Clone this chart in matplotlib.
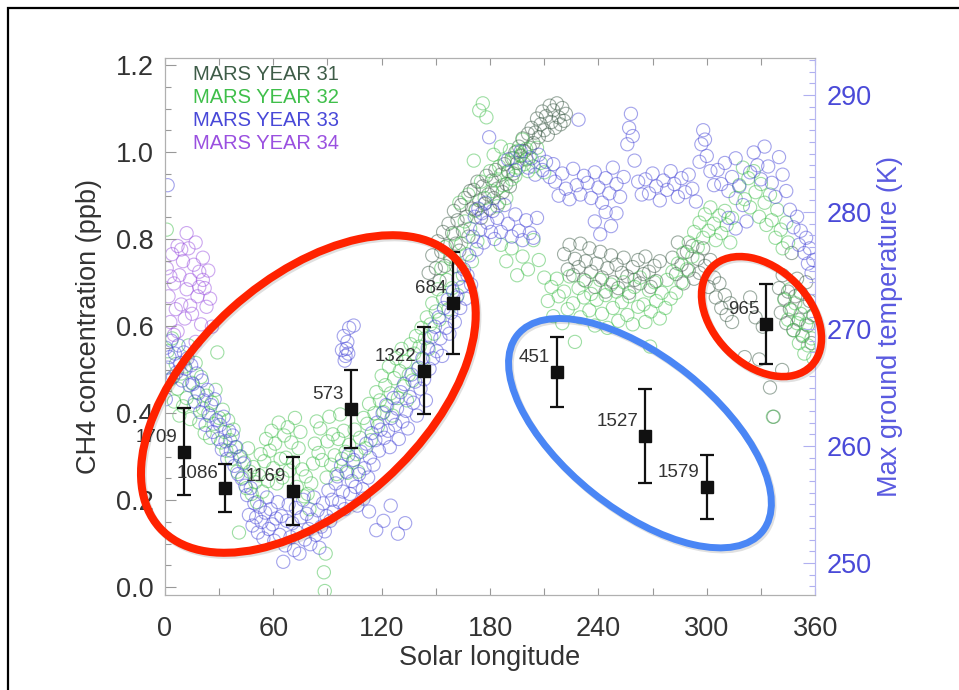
import numpy as np
import matplotlib
matplotlib.use("Agg")
import matplotlib.pyplot as plt
import matplotlib.patheffects as pe
from matplotlib.patches import Ellipse, Rectangle
from matplotlib.transforms import ScaledTranslation
from matplotlib.ticker import MultipleLocator

plt.rcParams['font.family'] = ['Liberation Sans', 'DejaVu Sans']

# CH4 measurements: solar longitude, concentration (ppb), 1-sigma error, sol label
ch4_ls = [10.6, 33.3, 70.8, 103.0, 143.3, 159.4, 217.0, 266.0, 300.0, 332.8]
ch4_val = [0.311, 0.228, 0.221, 0.409, 0.497, 0.653, 0.494, 0.347, 0.230, 0.605]
ch4_err = [0.100, 0.055, 0.078, 0.090, 0.100, 0.118, 0.080, 0.108, 0.073, 0.092]
ch4_sol = ['1709', '1086', '1169', '573', '1322', '684', '451', '1527', '1579', '965']

my31_pts = [
    (146, 274.8), (148, 276.3), (150, 275.2), (151, 277.5), (152, 274.1), (153, 276.6), (154, 278.3),
    (155, 275.4), (156, 277.1), (157, 279.0), (158, 276.0), (159, 278.2), (160, 280.1), (161, 277.3),
    (162, 279.3), (163, 276.7), (164, 280.6), (165, 278.4), (166, 281.2), (167, 279.6), (168, 277.9),
    (169, 281.8), (170, 280.3), (171, 281.9), (172, 280.2), (173, 282.6), (174, 281.0), (175, 279.5),
    (176, 282.2), (177, 280.7), (178, 283.1), (179, 281.5), (180, 280.3), (181, 282.7), (182, 281.2),
    (183, 283.6), (184, 282.0), (185, 280.8), (186, 283.2), (187, 281.7), (188, 284.1), (189, 282.4),
    (190, 283.5), (191, 282.2), (192, 284.6), (193, 283.3), (194, 285.1), (195, 284.2), (196, 285.6),
    (197, 284.8), (198, 286.3), (199, 285.2), (200, 284.5), (201, 286.7), (202, 285.5), (203, 287.2),
    (204, 285.9), (205, 286.8), (206, 288.0), (207, 286.4), (208, 287.5), (209, 288.6), (210, 287.0),
    (211, 288.2), (212, 286.6), (213, 289.1), (214, 287.7), (215, 288.7), (216, 287.2), (217, 289.3),
    (218, 288.1), (219, 287.5), (220, 288.9), (221, 287.8), (222, 288.4),
    (221, 276.4), (223, 275.1), (224, 277.2), (226, 274.6), (227, 276.0), (229, 275.3), (230, 277.3),
    (232, 274.2), (233, 275.8), (235, 276.9), (236, 274.9), (238, 273.6), (239, 275.6), (241, 276.6),
    (242, 274.4), (244, 273.2), (245, 275.2), (247, 276.3), (248, 274.0), (250, 275.5), (251, 273.5),
    (253, 274.8), (254, 276.1), (256, 274.5), (257, 273.1), (259, 275.3), (260, 274.2), (262, 275.9),
    (263, 273.9), (265, 274.7), (266, 276.2), (268, 274.9), (269, 273.6), (271, 275.4), (272, 274.1),
    (274, 275.8), (281, 276.1), (283, 274.7), (284, 277.4), (286, 275.5), (287, 273.9), (289, 276.6),
    (290, 275.0), (292, 277.1), (293, 274.3), (295, 276.0), (296, 274.8), (298, 276.9), (299, 275.4),
    (301, 273.6), (302, 275.9), (304, 274.4), (305, 272.7), (307, 273.9), (308, 271.8), (310, 272.9),
    (311, 271.2), (313, 272.2), (314, 270.6), (321, 267.6), (324, 272.7), (327, 271.0), (329, 267.4),
    (331, 270.2), (335, 265.0), (337, 262.5), (341.7, 266.5),
    (340, 273.5), (341, 271.4), (342, 274.6), (343, 272.6), (344, 270.5), (345, 273.2), (346, 271.7),
    (347, 276.5), (348, 269.9), (349, 272.8), (350, 274.3), (351, 270.8), (352, 273.1), (353, 269.4),
    (354, 271.9), (355, 274.0), (356, 270.3), (357, 272.4), (358, 268.8), (359, 271.2),
]

my32_pts = [
    (1, 278.5), (1.5, 268.1), (3, 265.7), (4, 269.2), (5, 263.8), (6, 267.0), (7, 264.9), (8, 262.6),
    (9, 266.2), (10, 263.4), (11, 266.8), (12, 264.1), (13, 268.6), (14, 262.3), (15, 265.4),
    (16, 263.5), (17, 267.1), (18, 264.6), (19, 262.0), (20, 265.9), (21, 263.2), (22, 261.1),
    (23, 264.3), (24, 262.8), (25, 260.7), (26, 263.7), (27, 261.9), (28, 264.8), (29, 268.0),
    (30, 262.4), (31, 260.3), (32, 263.1), (33, 261.2), (34, 259.6), (35, 262.2), (36, 260.5),
    (37, 258.9), (38, 261.4), (39, 259.9), (40, 257.8), (41, 252.6), (42, 259.1), (43, 257.3),
    (44, 258.6), (45, 256.4), (46, 259.8), (47, 257.8), (48, 255.9), (49, 258.2), (50, 256.9),
    (51, 255.2), (52, 257.5), (53, 259.3), (54, 256.1), (55, 258.7), (56, 260.6), (57, 257.0),
    (58, 259.6), (59, 261.3), (60, 258.1), (61, 260.2), (62, 256.8), (63, 262.0), (64, 258.9),
    (65, 257.3), (66, 260.9), (67, 259.0), (68, 261.6), (69, 257.9), (70, 260.3), (71, 258.6),
    (72, 262.4), (73, 256.5), (74, 259.8), (75, 261.2), (76, 258.0), (77, 255.7), (78, 257.4),
    (79, 255.9), (80, 254.6), (81, 256.8), (82, 258.5), (83, 260.2), (84, 262.1), (85, 259.4),
    (86, 261.5), (87, 258.8), (88, 249.2), (88.5, 247.6), (89, 250.8), (89.5, 257.3), (90, 260.4),
    (91, 262.5), (92, 258.4), (93, 261.0), (94, 259.2), (95, 257.6), (96, 260.6), (97, 262.7),
    (98, 258.9), (99, 261.3), (100, 259.5), (101, 257.7), (102, 260.1), (104, 258.6), (105, 261.4),
    (106, 259.3), (107, 257.8), (108, 260.7), (110, 262.4), (111, 259.8), (112, 261.9), (113, 263.6),
    (114, 260.5), (116, 262.8), (117, 264.6), (118, 261.7), (119, 263.9), (120, 266.0), (121, 262.9),
    (122, 265.2), (123, 263.4), (124, 266.8), (125, 264.5), (126, 262.6), (127, 265.8), (128, 267.5),
    (129, 264.1), (130, 266.4), (131, 268.3), (132, 265.1), (133, 267.2), (134, 263.9), (135, 266.1),
    (136, 268.7), (137, 265.6), (138, 267.9), (139, 269.4), (140, 266.6), (141, 268.5), (142, 270.1),
    (143, 267.4), (144, 269.2), (145, 271.0), (146, 268.3), (147, 270.4), (148, 272.2), (149, 269.6),
    (150, 271.5), (151, 273.4), (152, 270.8), (153, 275.2), (154, 272.6), (155, 277.0), (156, 274.2),
    (157, 271.7), (158, 276.2), (159, 273.5), (160, 278.1), (161, 275.4), (162, 272.9), (163, 280.8),
    (164, 277.3), (165, 274.6), (166, 279.2), (167, 276.4), (168, 281.5), (169, 278.6), (170, 275.8),
    (171, 284.4), (172, 280.1), (173, 277.5), (174, 288.7), (175, 282.6), (176, 289.3), (177, 281.2),
    (178, 288.1), (180, 283.5), (181, 281.8), (182, 284.9), (183, 282.7), (184, 280.5), (185, 283.9),
    (186, 285.6), (187, 282.3), (188, 284.4), (189, 281.2), (190, 283.4), (191, 285.3), (192, 282.8),
    (193, 284.6), (194, 283.1), (195, 285.2), (196, 283.8), (197, 284.9), (198, 286.2), (199, 284.1),
    (200, 285.4), (201, 283.5), (202, 284.7), (204, 283.9), (206, 285.5), (208, 284.2), (210, 283.4),
    (186, 277.2), (189, 275.8), (192, 276.9), (195, 274.6), (198, 276.2), (201, 275.1), (204, 277.6),
    (207, 275.9), (210, 274.4), (212, 272.4), (214, 273.6), (215, 271.1), (217, 274.3), (218, 272.8),
    (220, 270.5), (221, 273.2), (223, 271.7), (224, 274.5), (226, 272.2), (227, 268.9), (229, 273.5),
    (230, 271.0), (232, 272.7), (233, 274.1), (235, 271.6), (236, 273.0), (238, 270.3), (239, 272.5),
    (241, 274.2), (242, 271.3), (244, 272.9), (245, 270.1), (247, 273.8), (248, 271.8), (250, 273.2),
    (251, 270.7), (253, 272.3), (254, 274.0), (256, 271.2), (257, 272.8), (259, 270.4), (260, 273.6),
    (262, 271.9), (263, 274.4), (265, 272.1), (266, 270.6), (268, 273.3), (268.6, 268.5), (269, 271.5),
    (271, 274.0), (272, 272.4), (274, 270.9), (275, 273.1), (277, 271.8), (278, 274.2), (280, 272.6),
    (281, 274.9), (283, 273.1), (284, 275.6), (286, 274.0), (287, 276.5), (289, 275.1), (290, 277.4),
    (292, 276.2), (293, 278.3), (295, 277.0), (296, 279.1), (298, 277.8), (299, 279.8), (301, 278.4),
    (302, 280.4), (304, 279.0), (305, 277.6), (307, 279.7), (308, 278.2), (310, 280.1), (311, 278.9),
    (313, 277.4), (314, 279.5), (316, 281.2), (318, 282.3), (320, 283.8), (321, 281.1), (323, 282.9),
    (324, 280.4), (326, 283.5), (327, 281.7), (329, 279.6), (330, 282.4), (332, 280.8), (333, 278.9),
    (335, 281.5), (336, 279.3), (338, 277.8), (339, 280.2), (341, 278.5), (342, 276.9), (344, 279.1),
    (345, 277.4), (343, 272.5), (345, 270.8), (346, 273.4), (347, 271.6), (348, 269.9), (349, 272.2),
    (350, 270.5), (351, 268.8), (352, 271.3), (353, 269.5), (354, 267.9), (355, 270.4), (356, 268.6),
    (357, 271.0), (358, 269.2), (359, 267.5), (336.6, 262.5),
]

my33_pts = [
    (0.5, 268.4), (1.5, 266.7), (2.5, 267.6), (3.5, 269.0), (4.5, 265.9), (5.5, 267.9), (6.5, 266.3),
    (7.5, 268.6), (8.5, 267.1), (9.5, 265.6), (10.5, 268.0), (11.5, 266.6), (12.5, 267.5), (13.5, 265.2),
    (14.5, 266.9), (1.5, 282.3), (0.5, 264.0),
    (15.5, 265.3), (16.5, 263.8), (17.5, 266.2), (18.5, 264.5), (19.5, 262.9), (20.5, 265.6),
    (21.5, 263.9), (22.5, 261.8), (23.5, 264.8), (24.5, 262.6), (25.5, 263.5), (26.5, 261.2),
    (27.5, 264.0), (28.5, 262.2), (29.5, 260.6), (30.5, 261.8), (31.5, 259.7), (32.5, 262.5),
    (33.5, 260.4), (34.5, 258.9), (35.5, 261.3), (36.5, 259.6), (37.5, 260.9), (38.5, 258.3),
    (39.5, 259.9), (40.5, 257.6), (41.5, 259.1), (42.5, 257.2), (43.5, 258.5), (44.5, 256.6),
    (45.5, 255.8), (46.5, 254.1), (47.5, 256.4), (48.5, 253.2), (49.5, 255.1), (50.5, 253.9),
    (51.5, 252.6), (52.5, 254.8), (53.5, 253.5), (54.5, 252.1), (55.5, 254.3), (56.5, 255.6),
    (57.5, 252.9), (58.5, 254.6), (59.5, 253.3), (60.5, 251.9), (61.5, 253.8), (62.5, 255.2),
    (63.5, 252.4), (64.5, 254.0), (65.5, 250.1), (66.5, 251.5), (67.5, 253.6), (68.5, 255.0),
    (69.5, 252.2), (70.5, 253.4), (71.5, 251.1), (72.5, 254.7), (73.5, 252.6), (74.5, 250.8),
    (75.5, 253.9), (76.5, 255.4), (77.5, 252.0), (78.5, 254.2), (79.5, 252.9), (80.5, 251.6),
    (81.5, 253.7), (82.5, 255.6), (83.5, 252.4), (84.5, 254.5), (85.5, 251.3), (86.5, 253.1),
    (87.5, 255.1), (88.5, 252.7), (89.5, 254.0), (90.5, 256.2), (91.5, 253.6), (92.5, 255.4),
    (93.5, 254.4), (94.5, 256.8), (95.5, 257.4), (96.5, 255.2), (97.5, 258.3), (98.5, 256.1),
    (99.5, 254.6), (100.5, 257.8), (101.5, 259.2), (102.5, 255.9), (103.5, 257.0), (104.5, 258.8),
    (105.5, 256.5), (106.5, 254.9), (107.5, 257.6), (108.5, 259.5), (109.5, 256.3), (110.5, 258.1),
    (111.5, 260.2), (112.5, 257.3), (113.5, 259.0), (114.5, 261.1), (115.5, 258.4), (116.5, 260.5),
    (117.5, 262.0), (118.5, 259.6), (119.5, 261.4),
    (98, 268.2), (99, 269.4), (100, 267.7), (101, 268.9), (102, 270.1), (100.5, 268.3), (99.5, 267.3),
    (101.5, 267.9), (104.5, 270.3),
    (110, 255.5), (113, 254.4), (117, 252.8), (121, 253.6), (125, 254.9), (129, 252.5), (133, 253.4),
    (120.5, 262.8), (121.5, 260.7), (122.5, 263.5), (123.5, 261.3), (124.5, 259.9), (125.5, 262.4),
    (126.5, 264.1), (127.5, 261.8), (128.5, 263.2), (129.5, 260.6), (130.5, 264.6), (131.5, 262.1),
    (132.5, 265.3), (133.5, 263.0), (134.5, 261.5), (135.5, 264.2), (136.5, 266.1), (137.5, 263.7),
    (138.5, 265.5), (139.5, 262.6), (140.5, 266.7), (141.5, 264.9), (142.5, 267.5), (143.5, 265.7),
    (144.5, 263.9), (145.5, 268.4), (146.5, 266.6), (147.5, 269.3), (148.5, 267.5), (149.5, 270.2),
    (150.5, 268.1), (151.5, 271.0), (152.5, 269.2), (153.5, 267.7), (154.5, 271.8), (155.5, 270.1),
    (156.5, 272.5), (157.5, 269.6), (158.5, 271.4), (159.5, 273.2), (160.5, 270.6), (161.5, 272.7),
    (162.5, 274.3), (163.5, 271.8), (164.5, 273.6), (165.5, 275.1), (166.5, 272.6), (167.5, 274.6),
    (168.5, 276.3), (169.5, 273.8), (170.5, 277.9), (171.5, 279.6), (172.5, 276.8), (173.5, 280.3),
    (174.5, 278.5), (175.5, 279.9), (176.5, 277.4), (177.5, 280.8), (178.5, 279.1), (179.5, 286.4),
    (180.5, 278.3), (181.5, 280.1), (182.5, 277.7), (184, 279.5), (186, 278.3), (188, 280.6),
    (190, 279.0), (192, 277.9), (194, 279.8), (196, 278.4), (198, 277.6), (200, 279.3), (202, 278.2),
    (204, 277.8), (206, 279.5), (201, 283.8), (203, 284.6), (205, 283.2), (207, 284.9), (209, 283.6),
    (211, 284.3), (213, 283.0), (215, 284.1), (190, 284.5), (194, 283.6), (197, 285.2),
    (216, 282.6), (218, 281.4), (220, 283.3), (222, 282.0), (224, 281.1), (226, 283.7), (228, 282.3),
    (229, 287.9), (230, 281.5), (232, 283.1), (234, 282.5), (236, 281.2), (238, 283.4), (240, 282.1),
    (242, 280.8), (244, 282.9), (246, 281.6), (248, 283.8), (250, 282.4), (252, 281.3), (254, 283.0),
    (256, 285.8), (257, 287.2), (258, 288.4), (259, 286.5), (260, 284.4), (262, 282.6), (264, 281.5),
    (238, 279.2), (241, 278.1), (244, 280.0), (247, 278.8), (250, 279.9),
    (266, 282.8), (268, 281.6), (270, 283.3), (272, 282.2), (274, 281.0), (276, 282.7), (278, 281.9),
    (280, 283.5), (282, 282.4), (284, 281.3), (286, 282.9), (288, 281.7), (290, 283.2), (292, 282.0),
    (294, 280.9), (296, 284.3), (297, 285.8), (298, 287.0), (299, 286.2), (300, 284.8), (302, 283.5),
    (304, 282.3), (306, 283.6), (308, 282.4), (310, 284.2), (312, 281.8), (314, 283.0), (316, 284.6),
    (318, 282.2), (320, 280.6), (322, 279.2), (324, 283.4), (326, 285.1), (328, 284.0), (330, 282.8),
    (332, 285.6), (334, 283.9), (336, 282.5), (338, 281.3), (340, 284.7), (342, 283.2), (344, 281.8),
    (312, 279.5), (316, 278.6), (346, 280.2), (348, 278.7), (350, 279.6), (351, 277.2), (352, 278.4),
    (354, 276.5), (355, 277.8), (356, 275.6), (357, 276.9), (358, 274.8), (359, 275.9),
]

my34_pts = [
    (1, 275.2), (2, 272.8), (3, 270.6), (4, 276.4), (5, 273.9), (6, 271.7), (7, 277.1), (8, 274.6),
    (9, 272.1), (10, 275.8), (11, 270.9), (12, 273.4), (13, 276.9), (14, 274.2), (15, 271.3),
    (16, 275.5), (17, 277.4), (18, 272.8), (19, 274.9), (20, 270.4), (21, 276.1), (22, 273.5),
    (23, 271.9), (24, 275.0), (25, 272.6), (26, 270.2), (3, 274.5), (7, 269.8), (12, 278.2),
    (17, 268.9), (21, 274.2), (9, 276.8), (14, 272.0), (19, 273.6), (5, 269.5),
]

years = ['MARS YEAR 31', 'MARS YEAR 32', 'MARS YEAR 33', 'MARS YEAR 34']
year_colors = ['#3e5c48', '#3fbf4a', '#4848d8', '#9a50e0']

fig = plt.figure(figsize=(9.59, 6.90), dpi=100)
ax = fig.add_axes([0.172, 0.1377, 0.678, 0.778])
ax2 = ax.twinx()
ax.set_zorder(ax2.get_zorder() + 1)
ax.patch.set_visible(False)

# temperature clouds
for pts, col in zip([my31_pts, my32_pts, my33_pts, my34_pts], year_colors):
    arr = np.array(pts)
    ax2.scatter(arr[:, 0], arr[:, 1], s=90, facecolors='none', edgecolors=col,
                linewidths=0.8, alpha=0.5)

ax2.set_ylim(247.26, 293.16)
ax2.yaxis.set_major_locator(MultipleLocator(10))
ax2.yaxis.set_minor_locator(MultipleLocator(1))
ax2.tick_params(axis='y', which='both', direction='in', colors='#b0b0f0', labelcolor='#4a4ad8',
                labelsize=19.5, pad=8)
ax2.tick_params(axis='y', which='major', length=9, width=0.8)
ax2.tick_params(axis='y', which='minor', length=4, width=0.8)
ax2.set_ylabel('Max ground temperature (K)', color='#5a5ae0', fontsize=19.5, labelpad=4)

# CH4 points
ax.errorbar(ch4_ls, ch4_val, yerr=ch4_err, fmt='s', color='#111111', ms=8.5,
            elinewidth=1.6, capsize=5, capthick=1.6, zorder=5)
for x, y, lab in zip(ch4_ls, ch4_val, ch4_sol):
    ax.annotate(lab, (x, y), xytext=(-5, 10.5), textcoords='offset points',
                ha='right', va='center', fontsize=13.5, color='#333333', zorder=6)

ax.set_xlim(0, 360)
ax.set_ylim(-0.018, 1.216)
ax.xaxis.set_major_locator(MultipleLocator(60))
ax.xaxis.set_minor_locator(MultipleLocator(30))
ax.yaxis.set_major_locator(MultipleLocator(0.2))
ax.yaxis.set_minor_locator(MultipleLocator(0.05))
ax.yaxis.set_major_formatter(plt.FormatStrFormatter('%.1f'))
ax.tick_params(axis='both', which='both', direction='in', colors='#999999',
               labelcolor='#333333', labelsize=19.5, width=0.8)
ax.tick_params(axis='x', which='both', length=5, top=True, pad=15)
ax.tick_params(axis='y', which='major', length=8, pad=8)
ax.tick_params(axis='y', which='minor', length=4)
ax.set_xlabel('Solar longitude', fontsize=19.5, color='#333333', labelpad=2)
ax.set_ylabel('CH4 concentration (ppb)', fontsize=19.5, color='#333333', labelpad=10)

for a in (ax, ax2):
    for side in ('left', 'bottom', 'top'):
        a.spines[side].set_color('#b0b0b0')
    a.spines['right'].set_color('#b8b8f0')

# year legend
for k, (name, col) in enumerate(zip(years, year_colors)):
    ax.text(0.043, 0.970 - 0.043 * k, name, transform=ax.transAxes, color=col,
            fontsize=14.5, ha='left', va='center')

# highlight rings (size in inches, centre in data coordinates)
def ring(cx, cy, w, h, ang, col, lw):
    tr = fig.dpi_scale_trans + ScaledTranslation(cx, cy, ax.transData)
    e = Ellipse((0, 0), w, h, angle=ang, transform=tr, fill=False, ec=col, lw=lw,
                clip_on=False, zorder=7)
    e.set_path_effects([pe.SimpleLineShadow(offset=(1.2, -1.5), shadow_color='k', alpha=0.12),
                        pe.Normal()])
    ax.add_patch(e)

ring(79.4, 0.444, 4.00, 2.30, 42, '#ff2200', 5.8)
ring(263.0, 0.354, 3.14, 1.52, -38.7, '#4a86f5', 5.0)
ring(330.3, 0.622, 1.40, 0.96, -45, '#ff2200', 5.4)

# slide frame
fig.add_artist(Rectangle((8 / 959, -0.1), 1.2, 1.1 - 8 / 690, transform=fig.transFigure,
                         fill=False, ec='black', lw=1.6))

fig.savefig('out.png', dpi=100)
